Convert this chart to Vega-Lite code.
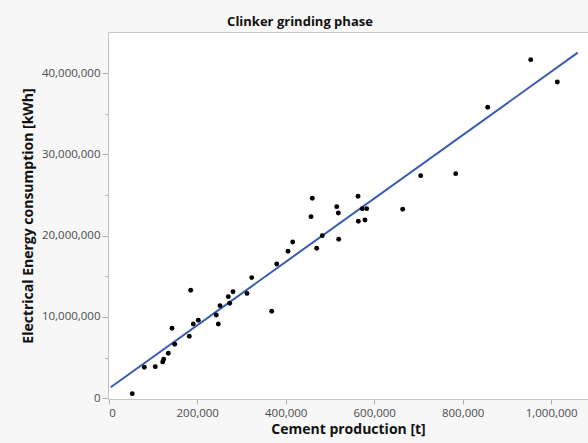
{
  "$schema": "https://vega.github.io/schema/vega-lite/v6.json",
  "autosize": "none",
  "width": 480,
  "height": 367,
  "padding": {"left": 108, "top": 32, "right": 0, "bottom": 44},
  "background": "#f7f7f7",
  "title": {
    "text": "Clinker grinding phase",
    "font": "Open Sans",
    "fontSize": 13,
    "fontWeight": "bold",
    "color": "#111111",
    "anchor": "middle",
    "dx": -48,
    "offset": 3
  },
  "config": {
    "view": {"stroke": "#c4c4c4", "fill": "white"},
    "axis": {
      "labelFont": "Open Sans",
      "labelFontSize": 11.5,
      "labelColor": "#4a4a4a",
      "titleFont": "Open Sans",
      "titleFontSize": 14,
      "titleFontWeight": "bold",
      "titleColor": "#111111",
      "domainColor": "#c4c4c4",
      "tickColor": "#b0b0b0",
      "grid": false
    }
  },
  "datasets": {
    "plants": [
      {"production": 53300, "energy": 570000},
      {"production": 80500, "energy": 3810000},
      {"production": 105300, "energy": 3890000},
      {"production": 122000, "energy": 4470000},
      {"production": 124300, "energy": 4800000},
      {"production": 134700, "energy": 5530000},
      {"production": 143000, "energy": 8610000},
      {"production": 149200, "energy": 6640000},
      {"production": 182200, "energy": 7630000},
      {"production": 185300, "energy": 13280000},
      {"production": 191200, "energy": 9140000},
      {"production": 202500, "energy": 9590000},
      {"production": 243200, "energy": 10250000},
      {"production": 247700, "energy": 9140000},
      {"production": 251500, "energy": 11390000},
      {"production": 270300, "energy": 12500000},
      {"production": 273400, "energy": 11680000},
      {"production": 280900, "energy": 13110000},
      {"production": 312500, "energy": 12900000},
      {"production": 323200, "energy": 14840000},
      {"production": 368400, "energy": 10700000},
      {"production": 379700, "energy": 16520000},
      {"production": 405200, "energy": 18080000},
      {"production": 415800, "energy": 19220000},
      {"production": 457200, "energy": 22340000},
      {"production": 460100, "energy": 24600000},
      {"production": 470100, "energy": 18450000},
      {"production": 482700, "energy": 20000000},
      {"production": 515300, "energy": 23570000},
      {"production": 518900, "energy": 22790000},
      {"production": 519800, "energy": 19560000},
      {"production": 563400, "energy": 24850000},
      {"production": 564100, "energy": 21770000},
      {"production": 573100, "energy": 23320000},
      {"production": 579200, "energy": 21930000},
      {"production": 583100, "energy": 23320000},
      {"production": 664400, "energy": 23250000},
      {"production": 705100, "energy": 27380000},
      {"production": 784200, "energy": 27630000},
      {"production": 856500, "energy": 35790000},
      {"production": 953700, "energy": 41650000},
      {"production": 1013800, "energy": 38900000}
    ],
    "fit": [
      {"production": 4500, "energy": 1350000},
      {"production": 1060000, "energy": 42510000}
    ]
  },
  "encoding": {
    "x": {
      "field": "production",
      "type": "quantitative",
      "title": "Cement production [t]",
      "scale": {"domain": [-1600, 1083200], "nice": false, "zero": false},
      "axis": {
        "values": [0, 200000, 400000, 600000, 800000, 1000000],
        "format": ",d",
        "tickSize": 5,
        "labelPadding": 3,
        "titlePadding": 4
      }
    },
    "y": {
      "field": "energy",
      "type": "quantitative",
      "title": "Electrical Energy consumption [kWh]",
      "scale": {"domain": [-90000, 45050000], "nice": false, "zero": false},
      "axis": {
        "values": [0, 5000000, 10000000, 15000000, 20000000, 25000000, 30000000, 35000000, 40000000],
        "format": ",d",
        "labelExpr": "datum.value % 10000000 === 0 ? datum.label : ''",
        "tickSize": {"condition": {"test": "datum.value % 10000000 !== 0", "value": 3}, "value": 6},
        "labelPadding": 2,
        "titlePadding": 6
      }
    }
  },
  "layer": [
    {
      "data": {"name": "fit"},
      "mark": {"type": "line", "color": "#3a5cb0", "strokeWidth": 2}
    },
    {
      "data": {"name": "plants"},
      "mark": {"type": "circle", "color": "black", "opacity": 1, "size": 24}
    }
  ]
}
